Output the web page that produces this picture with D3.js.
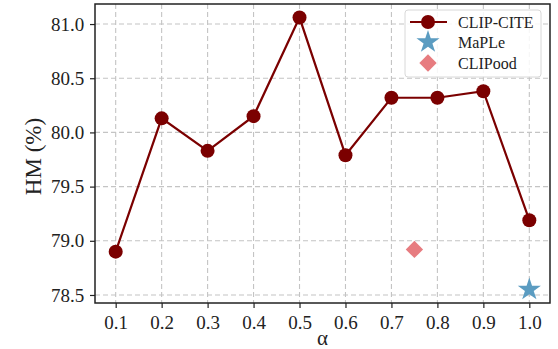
<!DOCTYPE html>
<html lang="en">
<head>
<meta charset="UTF-8">
<title>HM vs alpha</title>
<script src="https://d3js.org/d3.v7.min.js"></script>
<style>
  body { margin: 0; background: #fff; }
  svg text { font-family: "Liberation Serif", "DejaVu Serif", serif; fill: #222; }
  .grid line { stroke: #c4c4c4; stroke-dasharray: 5,3; stroke-width: 1.1; }
</style>
</head>
<body>
<svg id="chart" width="558" height="349"></svg>
<script>
// alpha values and HM for CLIP-CITE
const alphas = [0.1, 0.2, 0.3, 0.4, 0.5, 0.6, 0.7, 0.8, 0.9, 1.0];
const citeHM = [78.90, 80.13, 79.83, 80.15, 81.06, 79.79, 80.32, 80.32, 80.38, 79.19];
// baselines
const maple = [{ x: 1.0, y: 78.55 }];
const clipood = [{ x: 0.75, y: 78.92 }];
const yTicks = [78.5, 79.0, 79.5, 80.0, 80.5, 81.0];

const margin = { top: 4, right: 8, bottom: 46, left: 95 };
const width = 558, height = 349;

const svg = d3.select("#chart");

const x = d3.scaleLinear().domain([0.055, 1.045]).range([margin.left, width - margin.right]);
const y = d3.scaleLinear().domain([78.426, 81.185]).range([height - margin.bottom, margin.top]);

// grid
const grid = svg.append("g").attr("class", "grid");
grid.selectAll(".gx").data(alphas).enter().append("line")
  .attr("x1", d => x(d)).attr("x2", d => x(d))
  .attr("y1", margin.top).attr("y2", height - margin.bottom);
grid.selectAll(".gy").data(yTicks).enter().append("line")
  .attr("x1", margin.left).attr("x2", width - margin.right)
  .attr("y1", d => y(d)).attr("y2", d => y(d));

// axes
const xAxis = svg.append("g")
  .attr("transform", `translate(0,${height - margin.bottom})`)
  .call(d3.axisBottom(x).tickValues(alphas).tickFormat(d3.format(".1f")).tickSize(5).tickSizeOuter(0));
const yAxis = svg.append("g")
  .attr("transform", `translate(${margin.left},0)`)
  .call(d3.axisLeft(y).tickValues(yTicks).tickFormat(d3.format(".1f")).tickSize(5).tickSizeOuter(0));
[xAxis, yAxis].forEach(a => {
  a.select(".domain").remove();
  a.selectAll(".tick line").attr("stroke", "#222").attr("stroke-width", 1.2);
  a.selectAll("text").attr("font-size", 19).attr("fill", "#222");
});
xAxis.selectAll("text").attr("dy", "0.95em");
yAxis.selectAll("text").attr("dx", "-0.15em");

// frame
svg.append("rect")
  .attr("x", margin.left).attr("y", margin.top)
  .attr("width", width - margin.left - margin.right)
  .attr("height", height - margin.top - margin.bottom)
  .attr("fill", "none").attr("stroke", "#222").attr("stroke-width", 1.5);

// axis labels
svg.append("text")
  .attr("x", (margin.left + width - margin.right) / 2).attr("y", height - 4)
  .attr("text-anchor", "middle").attr("font-size", 21).text("α");
svg.append("text")
  .attr("transform", `translate(41,${(margin.top + height - margin.bottom) / 2 + 3}) rotate(-90)`)
  .attr("text-anchor", "middle").attr("font-size", 23).text("HM (%)");

// CLIP-CITE line
const pts = alphas.map((a, i) => ({ x: a, y: citeHM[i] }));
const lineColor = "#7b0000";
svg.append("path").datum(pts)
  .attr("fill", "none").attr("stroke", lineColor).attr("stroke-width", 2.2)
  .attr("d", d3.line().x(d => x(d.x)).y(d => y(d.y)));
svg.selectAll(".dot").data(pts).enter().append("circle")
  .attr("cx", d => x(d.x)).attr("cy", d => y(d.y)).attr("r", 7)
  .attr("fill", lineColor);

// baselines
const starColor = "#5b9cc1", diamondColor = "#e77c80";
const star = d3.symbol().type(d3.symbolStar).size(165);
const diamond = d3.symbol().type(d3.symbolSquare).size(150);
svg.selectAll(".maple").data(maple).enter().append("path")
  .attr("d", star).attr("fill", starColor)
  .attr("transform", d => `translate(${x(d.x)},${y(d.y)})`);
svg.selectAll(".clipood").data(clipood).enter().append("path")
  .attr("d", diamond).attr("fill", diamondColor)
  .attr("transform", d => `translate(${x(d.x)},${y(d.y)}) rotate(45)`);

// legend
const lg = svg.append("g").attr("transform", "translate(405,10)");
lg.append("rect").attr("width", 136).attr("height", 67).attr("rx", 3)
  .attr("fill", "#fff").attr("fill-opacity", 0.85).attr("stroke", "#d8d8d8");
lg.append("line").attr("x1", 5).attr("x2", 42).attr("y1", 12).attr("y2", 12)
  .attr("stroke", lineColor).attr("stroke-width", 2.2);
lg.append("circle").attr("cx", 23).attr("cy", 12).attr("r", 7).attr("fill", lineColor);
lg.append("path").attr("d", star).attr("fill", starColor).attr("transform", "translate(23,32)");
lg.append("path").attr("d", diamond).attr("fill", diamondColor).attr("transform", "translate(23,53) rotate(45)");
const labels = ["CLIP-CITE", "MaPLe", "CLIPood"];
lg.selectAll(".lt").data(labels).enter().append("text")
  .attr("x", 53).attr("y", (d, i) => 12 + i * 20.5).attr("dy", "0.35em")
  .attr("font-size", 16).text(d => d);
</script>
</body>
</html>
